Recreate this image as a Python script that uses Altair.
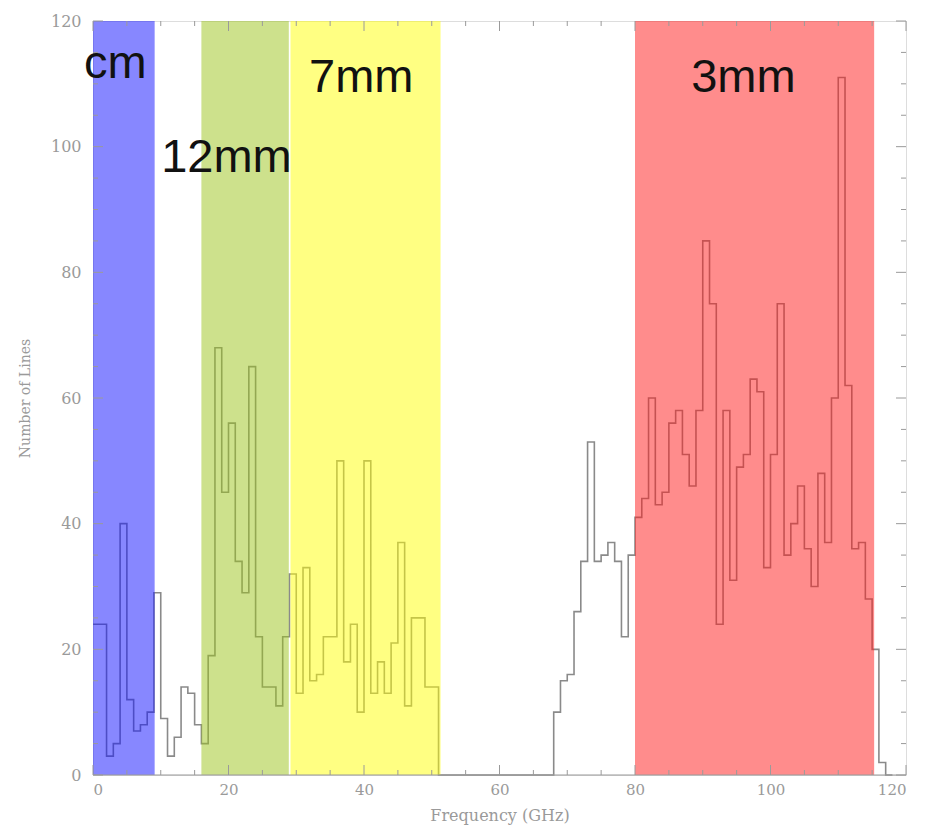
import altair as alt
import pandas as pd

# ---------------- data ----------------
bin_start = list(range(0, 118))  # 1 GHz bins
counts = [24, 24, 3, 5, 40, 12, 7, 8, 10, 29,
          9, 3, 6, 14, 13, 8, 5, 19, 68, 45,
          56, 34, 29, 65, 22, 14, 14, 11, 22, 32,
          13, 33, 15, 16, 22, 22, 50, 18, 24, 10,
          50, 13, 18, 13, 21, 37, 11, 25, 25, 14,
          14, 0, 0, 0, 0, 0, 0, 0, 0, 0,
          0, 0, 0, 0, 0, 0, 0, 0, 10, 15,
          16, 26, 34, 53, 34, 35, 37, 34, 22, 35,
          41, 44, 60, 43, 45, 56, 58, 51, 46, 58,
          85, 75, 24, 58, 31, 49, 51, 63, 61, 33,
          51, 75, 35, 40, 46, 36, 30, 48, 37, 60,
          111, 62, 36, 37, 28, 20, 2, 0]

band_names = ["cm", "12mm", "7mm", "3mm"]
band_lo = [0, 16, 29.15, 80]
band_hi = [9.1, 28.9, 51.3, 115.3]
band_colors = ["#0f0fff", "#9bc319", "#ffff05", "#ff1919"]

label_x = [3.3, 19.7, 39.6, 96.0]
label_y = [111, 96, 108.7, 108.7]

major_ticks = [0, 20, 40, 60, 80, 100, 120]
minor_ticks = [v for v in range(0, 121, 5) if v % 20 != 0]

# ---------------- layout / style ----------------
W, H = 813, 754
GRAY = "#9a9a9a"
LABEL_FONT = "DejaVu Serif"

xs = alt.Scale(domain=[0, 120], nice=False, zero=False)
ys = alt.Scale(domain=[0, 120], nice=False, zero=False)

# histogram step line
hist = pd.DataFrame({"f": bin_start + [bin_start[-1] + 1],
                     "n": counts + [counts[-1]]})
line = alt.Chart(hist).mark_line(
    interpolate="step-after", color="#8a8a8a", strokeWidth=1.6
).encode(
    x=alt.X("f:Q", scale=xs,
            axis=alt.Axis(values=major_ticks, ticks=False, domain=False, grid=False,
                          labelFont=LABEL_FONT, labelFontSize=15, labelColor=GRAY,
                          labelPadding=7, title="Frequency (GHz)",
                          titleFont=LABEL_FONT, titleFontSize=16, titleFontWeight="normal",
                          titleColor=GRAY, titlePadding=10)),
    y=alt.Y("n:Q", scale=ys,
            axis=alt.Axis(values=major_ticks, ticks=False, domain=False, grid=False,
                          labelFont=LABEL_FONT, labelFontSize=16, labelColor=GRAY,
                          labelPadding=12, title="Number of Lines",
                          titleFont=LABEL_FONT, titleFontSize=14, titleFontWeight="normal",
                          titleColor=GRAY, titlePadding=18)),
)

bands_df = pd.DataFrame({"band": band_names, "lo": band_lo, "hi": band_hi})
bands = alt.Chart(bands_df).mark_rect(opacity=0.5).encode(
    x=alt.X("lo:Q", scale=xs),
    x2="hi:Q",
    y=alt.value(0),
    y2=alt.value(H),
    color=alt.Color("band:N", scale=alt.Scale(domain=band_names, range=band_colors), legend=None),
)

labels_df = pd.DataFrame({"band": band_names, "lx": label_x, "ly": label_y})
labels = alt.Chart(labels_df).mark_text(
    font="Liberation Sans", fontSize=47, color="#111111", align="center", baseline="alphabetic"
).encode(
    x=alt.X("lx:Q", scale=xs),
    y=alt.Y("ly:Q", scale=ys),
    text="band:N",
)

# frame line on top (hides zero-count runs lying on the axis)
frame = alt.Chart(pd.DataFrame({"v": [0]})).mark_rule(color=GRAY, strokeWidth=1.2).encode(
    y=alt.Y("v:Q", scale=ys), x=alt.value(0), x2=alt.value(W)
)

# inward tick marks on all four sides
def xticks(vals, length):
    d = pd.DataFrame({"v": vals})
    base = alt.Chart(d).mark_rule(color=GRAY, strokeWidth=1)
    bottom = base.encode(x=alt.X("v:Q", scale=xs), y=alt.value(H), y2=alt.value(H - length))
    top = base.encode(x=alt.X("v:Q", scale=xs), y=alt.value(0), y2=alt.value(length))
    return [bottom, top]

def yticks(vals, length):
    d = pd.DataFrame({"v": vals})
    base = alt.Chart(d).mark_rule(color=GRAY, strokeWidth=1)
    left = base.encode(y=alt.Y("v:Q", scale=ys), x=alt.value(0), x2=alt.value(length))
    right = base.encode(y=alt.Y("v:Q", scale=ys), x=alt.value(W), x2=alt.value(W - length))
    return [left, right]

tick_layers = xticks(major_ticks, 10) + xticks(minor_ticks, 5) + yticks(major_ticks, 10) + yticks(minor_ticks, 5)

chart = alt.layer(line, bands, frame, *tick_layers, labels).properties(
    width=W, height=H,
    autosize=alt.AutoSizeParams(type="none"),
    padding={"left": 85, "top": 13, "right": 10, "bottom": 50},
).configure_view(stroke=GRAY, strokeWidth=1).configure(background="white")

chart.save("out.html", embed_options={"renderer": "svg", "actions": False})
